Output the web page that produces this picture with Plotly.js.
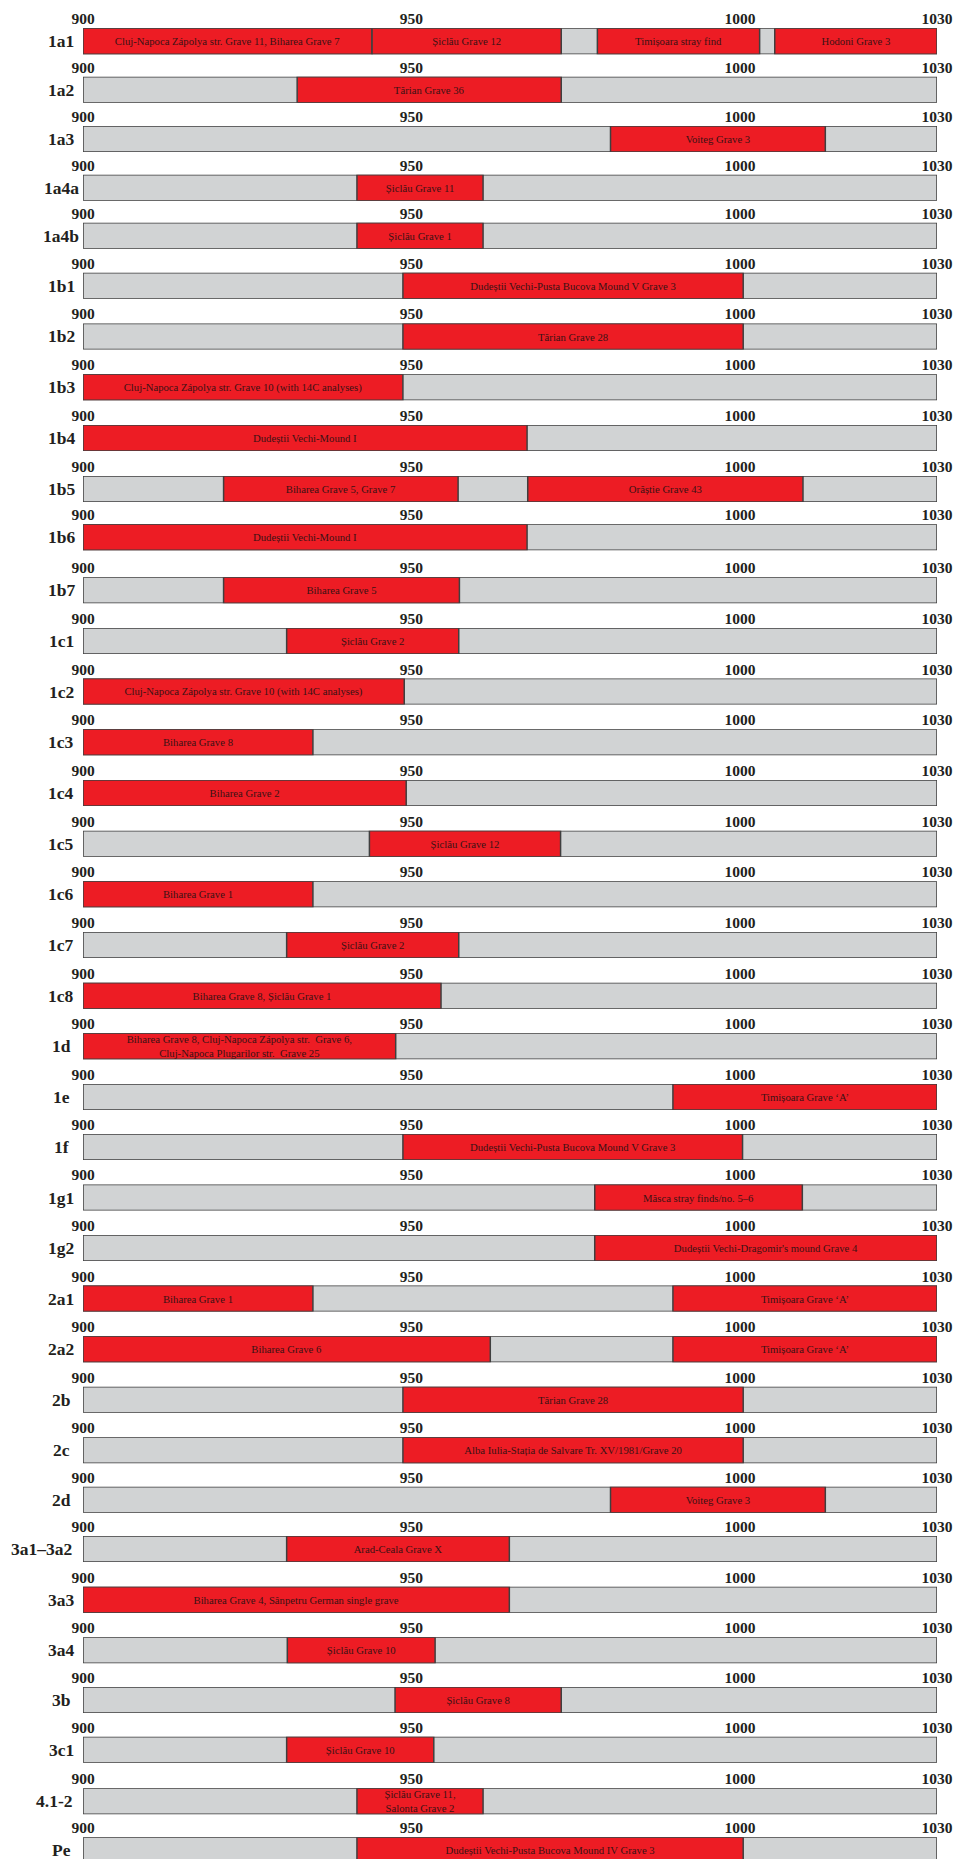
<!DOCTYPE html>
<html>
<head>
<meta charset="utf-8">
<script src="https://cdn.plot.ly/plotly-3.0.1.min.js"></script>
<style>html,body{margin:0;padding:0;overflow:hidden;background:#ffffff}</style>
</head>
<body>
<div id="chart" style="width:954px;height:1859px"></div>
<script>
// ---------------- DATA ----------------
const rowLabels = ['1a1','1a2','1a3','1a4a','1a4b','1b1','1b2','1b3','1b4','1b5','1b6','1b7',
  '1c1','1c2','1c3','1c4','1c5','1c6','1c7','1c8','1d','1e','1f','1g1','1g2',
  '2a1','2a2','2b','2c','2d','3a1–3a2','3a3','3a4','3b','3c1','4.1-2','Pe'];

const axisStart = 900;
const axisEnd = 1030;
const tickVals = [900, 950, 1000, 1030];
const tickText = ['900', '950', '1000', '1030'];

const segStart = [
  [900, 944, 978.3, 1005.3], [932.6], [980.3], [941.7], [941.7], [948.7], [948.7], [900], [900],
  [921.4, 967.7], [900], [921.4],
  [931], [900], [900], [900], [943.6], [900], [931], [900],
  [900], [989.8], [948.7], [977.9], [977.9],
  [900, 989.8], [900, 989.8], [948.7], [948.7], [980.3],
  [931], [900], [931.1], [947.5], [931], [941.7], [941.7]
];
const segEnd = [
  [944, 972.8, 1003, 1030], [972.8], [1013], [960.9], [960.9], [1000.5], [1000.5], [948.7], [967.6],
  [957.1, 1009.6], [967.6], [957.3],
  [957.2], [948.9], [935], [949.2], [972.7], [935], [957.2], [954.5],
  [947.6], [1030], [1000.4], [1009.5], [1030],
  [935, 1030], [962, 1030], [1000.5], [1000.5], [1013],
  [964.9], [964.9], [953.6], [972.8], [953.4], [960.9], [1000.5]
];
const segText = [
  ['Cluj-Napoca Zápolya str. Grave 11, Biharea Grave 7', 'Șiclău Grave 12', 'Timișoara stray find', 'Hodoni Grave 3'],
  ['Tărian Grave 36'],
  ['Voiteg Grave 3'],
  ['Șiclău Grave 11'],
  ['Șiclău Grave 1'],
  ['Dudeștii Vechi-Pusta Bucova Mound V Grave 3'],
  ['Tărian Grave 28'],
  ['Cluj-Napoca Zápolya str. Grave 10 (with 14C analyses)'],
  ['Dudeștii Vechi-Mound I'],
  ['Biharea Grave 5, Grave 7', 'Orăștie Grave 43'],
  ['Dudeștii Vechi-Mound I'],
  ['Biharea Grave 5'],
  ['Șiclău Grave 2'],
  ['Cluj-Napoca Zápolya str. Grave 10 (with 14C analyses)'],
  ['Biharea Grave 8'],
  ['Biharea Grave 2'],
  ['Șiclău Grave 12'],
  ['Biharea Grave 1'],
  ['Șiclău Grave 2'],
  ['Biharea Grave 8, Șiclău Grave 1'],
  ['Biharea Grave 8, Cluj-Napoca Zápolya str.  Grave 6,<br>Cluj-Napoca Plugarilor str.  Grave 25'],
  ['Timișoara Grave ‘A’'],
  ['Dudeștii Vechi-Pusta Bucova Mound V Grave 3'],
  ['Măsca stray finds/no. 5–6'],
  ['Dudeștii Vechi-Dragomir\'s mound Grave 4'],
  ['Biharea Grave 1', 'Timișoara Grave ‘A’'],
  ['Biharea Grave 6', 'Timișoara Grave ‘A’'],
  ['Tărian Grave 28'],
  ['Alba Iulia-Stația de Salvare Tr. XV/1981/Grave 20'],
  ['Voiteg Grave 3'],
  ['Arad-Ceala Grave X'],
  ['Biharea Grave 4, Sânpetru German single grave'],
  ['Șiclău Grave 10'],
  ['Șiclău Grave 8'],
  ['Șiclău Grave 10'],
  ['Șiclău Grave 11,<br>Salonta Grave 2'],
  ['Dudeștii Vechi-Pusta Bucova Mound IV Grave 3']
];

// ---------------- LAYOUT / STYLE ----------------
const W = 954, H = 1859;
const marginL = 83, marginR = 17;
const plotW = W - marginL - marginR;
const barH = 26;
const rowTop = [28.3, 76.7, 126, 174.7, 222.7, 272.7, 323.5, 374.3, 425.1, 476, 524.3, 577.3,
  628, 678.6, 729.3, 780, 830.7, 881.3, 932, 982.7, 1033.3, 1084, 1134, 1184.5, 1235.1,
  1285.6, 1336.2, 1386.7, 1437.3, 1486.7, 1536, 1586.7, 1637.3, 1687, 1736.7, 1788.3, 1837.3];

const RED = '#ed1c24', GRAY = '#d1d3d4', EDGE = '#3f3f3f', INK = '#231f20';
const SERIF = '"Liberation Serif", "Times New Roman", serif';
const INNER_SIZE = 10.7;

const traces = [];
const layout = {
  width: W, height: H,
  margin: {l: marginL, r: marginR, t: 0, b: 0, pad: 0},
  paper_bgcolor: '#ffffff', plot_bgcolor: 'rgba(0,0,0,0)',
  barmode: 'overlay',
  showlegend: false,
  uniformtext: {mode: 'show', minsize: INNER_SIZE},
  annotations: []
};

rowLabels.forEach((lab, i) => {
  const k = i === 0 ? '' : String(i + 1);
  const xa = 'x' + k, ya = 'y' + k;
  const top = rowTop[i];
  const visBot = Math.min(top + barH, H);
  const domain = [1 - visBot / H, 1 - top / H];
  const yRange = [0.5 - (visBot - top) / barH, 0.5];

  layout['xaxis' + k] = {
    domain: [0, 1], range: [axisStart, axisEnd], anchor: ya, side: 'top',
    tickmode: 'array', tickvals: tickVals, ticktext: tickText,
    ticks: '', showgrid: false, zeroline: false, showline: false, fixedrange: true,
    tickfont: {family: SERIF, size: 15.5, color: INK, weight: 'bold'}
  };
  layout['yaxis' + k] = {
    domain: domain, range: yRange, anchor: xa,
    showticklabels: false, showgrid: false, zeroline: false, showline: false, fixedrange: true
  };

  // full grey band
  traces.push({
    type: 'bar', orientation: 'h', xaxis: xa, yaxis: ya,
    y: [0], base: [axisStart], x: [axisEnd - axisStart], width: [1],
    marker: {color: GRAY, line: {color: EDGE, width: 1.5}},
    cliponaxis: false, hoverinfo: 'skip'
  });

  // red segments
  const s = segStart[i], e = segEnd[i];
  traces.push({
    type: 'bar', orientation: 'h', xaxis: xa, yaxis: ya,
    y: s.map(() => 0), base: s, x: s.map((v, j) => e[j] - v), width: s.map(() => 1),
    text: segText[i], textposition: 'inside', insidetextanchor: 'middle',
    textangle: 0, constraintext: 'none',
    insidetextfont: {family: SERIF, size: INNER_SIZE, color: '#3a1214'},
    marker: {color: RED, line: {color: EDGE, width: 1.5}},
    cliponaxis: false, hoverinfo: 'skip'
  });

  // row label
  const longLab = lab.length > 4;
  layout.annotations.push({
    xref: 'paper', yref: ya, y: 0,
    x: longLab ? (74 - marginL) / plotW : (61 - marginL) / plotW,
    xanchor: longLab ? 'right' : 'center', yanchor: 'middle',
    text: lab, showarrow: false,
    font: {family: SERIF, size: 17.5, color: INK, weight: 'bold'}
  });
});

Plotly.newPlot('chart', traces, layout, {staticPlot: true, displayModeBar: false});
</script>
</body>
</html>
